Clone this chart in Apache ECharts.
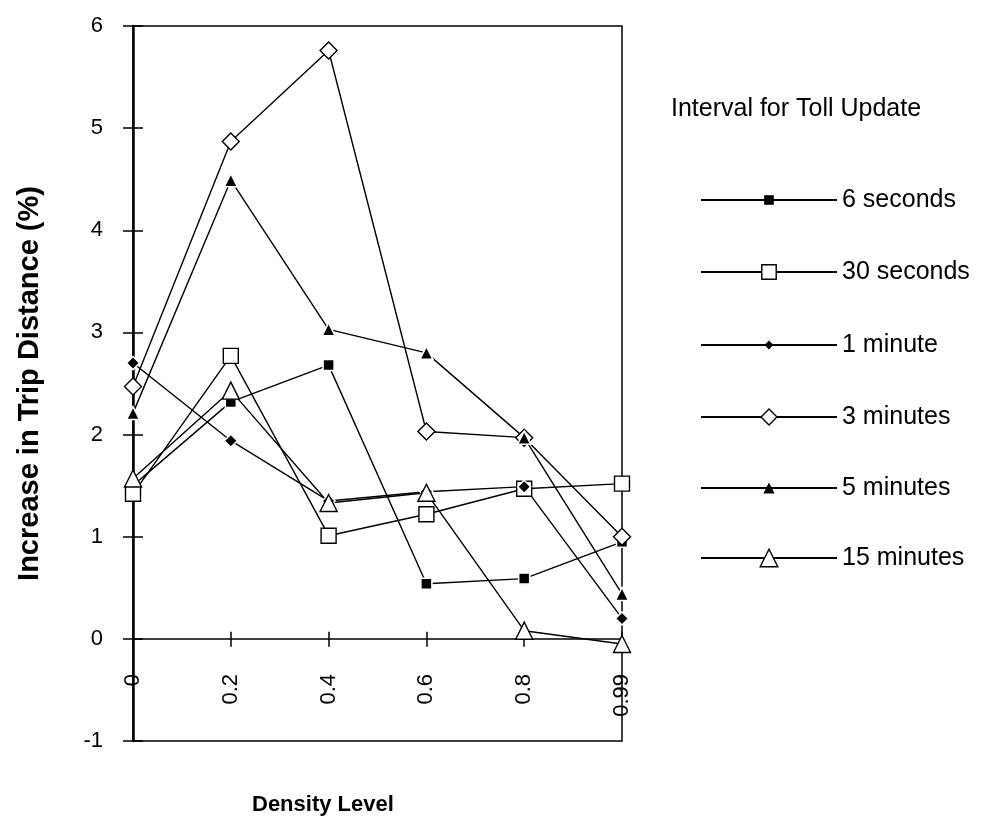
<!DOCTYPE html>
<html>
<head>
<meta charset="utf-8">
<title>Increase in Trip Distance by Density Level</title>
<script src="https://cdn.jsdelivr.net/npm/echarts@6/dist/echarts.min.js"></script>
<style>
  html, body { margin: 0; padding: 0; background: #fff; }
  #chart { width: 983px; height: 824px; }
</style>
</head>
<body>
<div id="chart"></div>
<script>
// Density levels on the horizontal axis
const densityLevels = ['0', '0.2', '0.4', '0.6', '0.8', '0.99'];

// Increase in trip distance (%) for each toll update interval
const sixSeconds     = [1.50, 2.32, 2.68, 0.54, 0.59, 0.95];
const thirtySeconds  = [1.42, 2.77, 1.01, 1.22, 1.47, 1.52];
const oneMinute      = [2.70, 1.94, 1.35, 1.44, 1.49, 0.20];
const threeMinutes   = [2.47, 4.87, 5.76, 2.03, 1.97, 1.00];
const fiveMinutes    = [2.21, 4.49, 3.03, 2.80, 1.97, 0.44];
const fifteenMinutes = [1.57, 2.43, 1.33, 1.43, 0.08, -0.05];

const seriesNames = ['6 seconds', '30 seconds', '1 minute', '3 minutes', '5 minutes', '15 minutes'];

const FONT = '"Liberation Sans", Arial, Helvetica, sans-serif';
const INK = '#000';

// Marker look per series: shape, size, filled or hollow, legend icon height
const markerStyles = [
  { symbol: 'rect',     size: 11, filled: true,  legendH: 12 },
  { symbol: 'rect',     size: 15, filled: false, legendH: 18 },
  { symbol: 'diamond',  size: 13, filled: true,  legendH: 11 },
  { symbol: 'diamond',  size: 17, filled: false, legendH: 20 },
  { symbol: 'triangle', size: 13, filled: true,  legendH: 14 },
  { symbol: 'triangle', size: 17, filled: false, legendH: 22 }
];
const seriesValues = [sixSeconds, thirtySeconds, oneMinute, threeMinutes, fiveMinutes, fifteenMinutes];

const series = seriesNames.map((name, i) => {
  const m = markerStyles[i];
  return {
    name: name,
    type: 'line',
    xAxisIndex: 0,
    yAxisIndex: 0,
    data: seriesValues[i],
    symbol: m.symbol,
    symbolSize: m.size,
    showAllSymbol: true,
    animation: false,
    lineStyle: { color: INK, width: 1.4 },
    itemStyle: m.filled
      ? { color: INK, borderColor: '#fff', borderWidth: 1.5 }
      : { color: '#fff', borderColor: INK, borderWidth: 1.4 },
    emphasis: { disabled: true }
  };
});

// One legend per series so each icon keeps its own marker size
const legendCenters = [200, 272, 345, 417, 488, 558];
const legends = seriesNames.map((name, i) => ({
  data: [name],
  left: 700,
  top: legendCenters[i] - 13,
  padding: 0,
  orient: 'vertical',
  itemWidth: 136,
  itemHeight: markerStyles[i].legendH,
  selectedMode: false,
  itemStyle: markerStyles[i].filled
    ? { color: INK, borderWidth: 0 }
    : { color: '#fff', borderColor: INK, borderWidth: 1.4 },
  textStyle: { color: INK, fontFamily: FONT, fontSize: 25, lineHeight: 26 }
}));

const chart = echarts.init(document.getElementById('chart'), null, { renderer: 'canvas' });

chart.setOption({
  backgroundColor: '#fff',
  animation: false,
  title: [
    {
      text: 'Interval for Toll Update',
      left: 671,
      top: 97,
      padding: 0,
      textStyle: { color: INK, fontFamily: FONT, fontSize: 25, fontWeight: 'normal' }
    },
    {
      text: 'Density Level',
      left: 252,
      top: 794,
      padding: 0,
      textStyle: { color: INK, fontFamily: FONT, fontSize: 22, fontWeight: 'bold' }
    }
  ],
  legend: legends,
  grid: {
    left: 133,
    right: 361,
    top: 26,
    bottom: 83,
    show: true,
    borderColor: INK,
    borderWidth: 1.5,
    backgroundColor: 'transparent'
  },
  xAxis: [
    {
      type: 'category',
      data: densityLevels,
      boundaryGap: false,
      axisLine: { onZero: true, onZeroAxisIndex: 0, lineStyle: { color: INK, width: 1.5 } },
      axisTick: { show: true, inside: false, length: 8, interval: 0, lineStyle: { color: INK, width: 1.5 } },
      // labels hang just below the zero line, inside the band between 0 and -1
      axisLabel: {
        interval: 0, rotate: 90, margin: -67,
        color: INK, fontFamily: FONT, fontSize: 22
      },
      splitLine: { show: false }
    },
    {
      type: 'category',
      data: densityLevels,
      boundaryGap: false,
      position: 'bottom',
      axisLine: { show: false, onZero: true, onZeroAxisIndex: 0 },
      axisTick: { show: true, inside: true, length: 7, interval: 0, lineStyle: { color: INK, width: 1.5 } },
      axisLabel: { show: false },
      splitLine: { show: false }
    }
  ],
  yAxis: [
    {
      type: 'value',
      min: -1,
      max: 6,
      interval: 1,
      position: 'left',
      name: 'Increase in Trip Distance (%)',
      nameLocation: 'middle',
      nameRotate: 90,
      nameGap: 89,
      nameTextStyle: { color: INK, fontFamily: FONT, fontSize: 29, fontWeight: 'bold' },
      axisLine: { show: true, lineStyle: { color: INK, width: 2.5 } },
      axisTick: { show: true, inside: false, length: 10, lineStyle: { color: INK, width: 1.5 } },
      axisLabel: { color: INK, fontFamily: FONT, fontSize: 22, margin: 30 },
      splitLine: { show: false }
    },
    {
      type: 'value',
      min: -1,
      max: 6,
      interval: 1,
      position: 'left',
      axisLine: { show: false },
      axisTick: { show: true, inside: true, length: 10, lineStyle: { color: INK, width: 1.5 } },
      axisLabel: { show: false },
      splitLine: { show: false }
    }
  ],
  series: series
});
</script>
</body>
</html>
